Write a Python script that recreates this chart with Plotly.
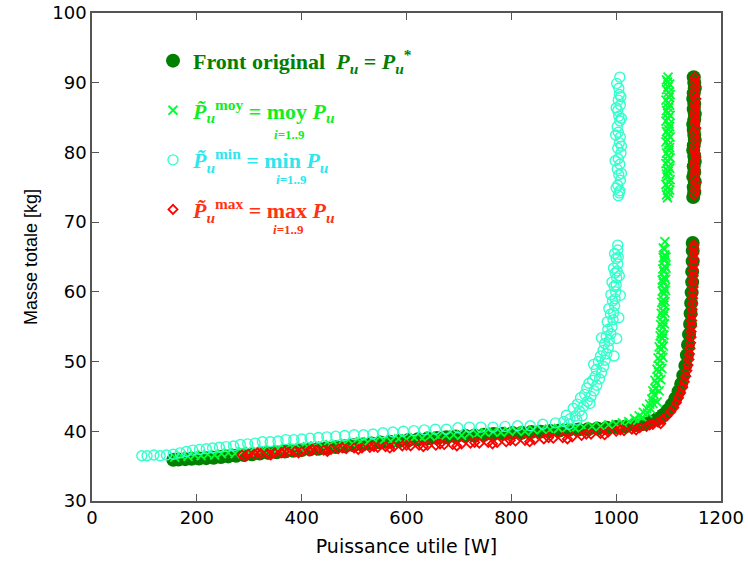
import plotly.graph_objects as go

# ---------------- data ----------------
# Front original  (P_u = P_u*)
front_power = [155,165,178,190,204,218,232,246,260,275,290,305,320,336,352,368,384,400,416,432,448,465,482,499,516,533,550,568,586,604,622,640,658,676,694,712,730,748,766,784,802,820,838,856,874,892,910,928,946,964,982,1000,1018,1036,1052,1066,1078,1089,1098,1106,1113,1119,1124,1128,1132,1135,1137,1139,1141,1142,1143,1144,1145,1145,1146,1146,1146,
               1147,1149,1148,1150,1147,1149,1148,1150,1149,1147,1148,1150,1149,1148,1147,1149,1150,1148,1149,1147,1148,1150,1149,1148]
front_mass = [35.9,35.95,36.0,36.05,36.1,36.15,36.2,36.3,36.4,36.5,36.6,36.7,36.8,36.9,37.0,37.1,37.2,37.3,37.4,37.5,37.6,37.75,37.85,38.0,38.1,38.25,38.4,38.5,38.6,38.75,38.85,38.95,39.05,39.15,39.25,39.35,39.4,39.5,39.6,39.65,39.75,39.8,39.9,39.95,40.05,40.1,40.2,40.25,40.3,40.4,40.5,40.6,40.7,40.85,41.05,41.35,41.75,42.3,43.0,43.8,44.7,45.7,46.8,48.0,49.4,50.9,52.4,53.9,55.4,56.9,58.4,59.9,61.4,62.9,64.4,65.9,67.0,
              73.6,74.3,75.0,75.8,76.5,77.2,78.0,78.7,79.5,80.3,81.0,81.8,82.5,83.2,84.0,84.7,85.5,86.2,87.0,87.7,88.5,89.2,90.0,90.8]

# moy
moy_power = [158,170,183,196,208,221,234,247,260,273,287,300,314,327,341,355,369,383,397,411,425,440,454,468,483,497,512,526,541,556,570,585,600,615,630,645,660,675,690,705,720,735,750,765,780,795,810,826,842,858,874,890,906,922,938,954,970,986,1000,
             1012,1024,1035,1040,1044,1050,1052,1058,1060,1064,1066,1068,1070,1072,1075,1077,1080,1081,1083,1084,1086,1085,1087,1088,1086,1089,1088,1090,1089,1091,1090,1091,1092,1090,1092,1091,1093,1092,1093,1092,1093,
             1070,1074,1078,1080,1082,1084,1085,1086,1087,1088,1088,1089,1090,1090,
             1078,1082,1085,1087,1089,1090,1091,1092,1093,1093,1094,1094,1095,1095,
             1098,1100,1099,1101,1097,1099,1100,1098,1099,1101,1100,1098,1099,1100,1101,1099,1098,1100,1099,1101,1100,1099,1098,1099,
             1096,1102,1095,1103,1096,1102,1095,1103,1096,1102,1095,1103,1096,1102,1095,1103,1096,1102,1095,1103,1096,1102,1096]
moy_mass = [36.3,36.5,36.4,36.6,36.5,36.7,36.6,36.8,36.9,36.8,37.1,37.0,37.2,37.3,37.2,37.5,37.4,37.7,37.6,37.8,37.9,37.8,38.1,38.0,38.3,38.2,38.5,38.4,38.6,38.7,38.6,38.9,38.8,39.1,39.0,39.3,39.2,39.4,39.5,39.4,39.7,39.6,39.8,39.9,39.8,40.0,40.1,40.0,40.2,40.3,40.2,40.4,40.5,40.4,40.6,40.7,40.7,40.9,41.0,
            41.2,41.4,41.8,41.5,42.2,42.0,42.7,43.3,42.6,43.9,43.2,44.6,44.0,45.3,46.1,46.9,47.7,48.5,49.3,50.1,50.9,51.7,52.5,53.3,54.1,54.9,55.7,56.5,57.3,58.1,58.9,59.7,60.5,61.3,62.1,62.9,63.7,64.5,65.3,66.1,67.2,
            45.8,47.3,48.9,50.5,52.1,53.7,55.3,56.9,58.5,60.1,61.7,63.3,64.9,66.3,
            44.2,45.8,47.4,49.0,50.6,52.2,53.8,55.4,57.0,58.6,60.2,61.8,63.4,65.0,
            73.5,74.2,75.0,75.7,76.5,77.3,78.0,78.8,79.5,80.3,81.1,81.8,82.6,83.3,84.1,84.9,85.6,86.4,87.1,87.9,88.6,89.4,90.1,90.8,
            73.9,74.6,75.4,76.1,76.9,77.7,78.4,79.2,79.9,80.7,81.5,82.2,83.0,83.7,84.5,85.3,86.0,86.8,87.5,88.3,89.0,89.8,90.4]

# min
min_power = [95,105,118,130,142,155,168,180,192,205,218,230,243,256,270,283,297,311,325,340,355,370,385,400,416,432,448,465,482,500,518,536,555,574,594,614,634,655,676,698,720,742,765,788,812,836,860,884,
             900,912,905,922,930,918,938,945,932,952,958,944,963,955,968,972,962,976,979,970,982,985,978,987,990,984,992,994,989,995,997,993,998,999,996,1000,1001,998,1002,1003,1000,1004,1003,1003,
             910,925,935,926,940,950,948,960,957,966,975,972,981,983,986,990,992,995,997,1006,1008,1005,1001,996,
             1004,1007,1003,1008,1005,1002,1007,1004,1009,1003,1006,1008,1004,1002,1007,1005,1003,1008,1004,1006,1005,1007,
             1000,1010,998,1010,999,1010,1000,1009,1001,1006]
min_mass = [36.5,36.5,36.6,36.5,36.6,36.7,36.9,37.1,37.3,37.4,37.5,37.6,37.7,37.8,37.9,38.1,38.2,38.3,38.5,38.5,38.6,38.8,38.8,38.9,39.0,39.1,39.2,39.3,39.4,39.5,39.5,39.6,39.8,39.9,40.0,40.1,40.2,40.3,40.3,40.5,40.6,40.6,40.6,40.7,40.8,40.8,41.0,41.2,
            41.4,41.8,42.3,42.2,42.9,43.3,43.6,44.3,44.8,45.0,45.8,46.2,46.6,47.3,47.5,48.4,48.9,49.3,50.2,50.8,51.1,52.0,52.6,53.0,54.0,54.6,55.0,56.0,56.8,57.0,58.0,58.7,59.0,60.0,60.8,61.0,62.0,62.7,63.0,64.0,64.8,65.0,66.0,66.7,
            41.0,41.6,42.2,43.9,45.3,44.0,46.9,47.9,49.6,50.0,51.6,53.4,53.6,55.7,57.6,59.6,61.4,63.4,65.5,62.3,59.5,56.3,53.3,50.8,
            73.8,74.5,75.3,76.0,76.8,77.6,78.3,79.1,79.9,80.6,81.4,82.2,82.9,83.7,84.5,85.2,86.0,86.8,87.5,88.3,89.2,90.8,
            74.9,77.0,78.8,80.9,82.5,84.9,86.4,88.0,89.9,74.2]

# max
max_power = [286,298,310,322,335,348,361,374,387,400,414,428,442,456,470,485,500,515,530,545,560,576,592,608,624,640,656,672,688,705,722,739,756,773,790,808,826,844,862,880,898,916,934,952,970,985,1000,
             292,316,341,367,394,421,449,478,508,538,568,600,632,664,696,730,764,798,835,871,907,943,978,1008,1038,1064,1085,
             1015,1030,1045,1058,1070,1080,1089,1097,1104,1110,1115,1119,1123,1127,1130,1133,1135,1137,1139,1140,1141,1142,1143,1143,1144,1144,1145,1145,1146,1146,1146,1147,1147,1147,1147,1148,1148,1148,1148,1148,
             1149,1151,1150,1152,1149,1150,1151,1149,1150,1152,1151,1149,1150,1151,1150,1149,1152,1150,1151,1149,1150,1151,1150,1152,1149,1150,1151,1150,1150]
max_mass = [36.6,36.7,36.7,36.8,36.8,36.9,36.9,37.0,37.1,37.1,37.2,37.3,37.3,37.4,37.5,37.5,37.6,37.6,37.7,37.7,37.8,37.8,37.9,37.9,38.0,38.0,38.0,38.1,38.1,38.2,38.3,38.3,38.4,38.4,38.5,38.6,38.7,38.8,38.9,39.0,39.1,39.2,39.4,39.6,39.7,39.9,40.0,
            36.4,36.9,36.6,37.1,36.9,37.4,37.1,37.6,37.4,37.8,37.6,38.0,37.8,38.2,37.9,38.4,38.2,38.7,38.5,39.1,38.9,39.6,39.5,40.2,40.2,40.9,41.1,
            40.1,40.3,40.5,40.7,41.0,41.3,41.7,42.2,42.8,43.4,44.1,44.8,45.5,46.3,47.1,47.9,48.7,49.5,50.3,51.1,51.9,52.7,53.5,54.3,55.1,55.9,56.7,57.5,58.3,59.1,59.9,60.7,61.5,62.3,63.1,63.9,64.7,65.5,66.3,66.7,
            73.9,74.5,75.1,75.7,76.3,76.9,77.5,78.1,78.7,79.3,79.9,80.5,81.1,81.7,82.3,82.9,83.5,84.1,84.7,85.3,85.9,86.5,87.1,87.7,88.3,88.9,89.5,90.1,90.8]

x_ticks = [0, 200, 400, 600, 800, 1000, 1200]
y_ticks = [30, 40, 50, 60, 70, 80, 90, 100]

C_FRONT = "#007f00"
C_MOY = "#00ff33"
C_MIN = "#33ffcc"
C_MAX = "#ff0000"
T_MOY = "#11ee22"
T_MIN = "#2ee6ee"
T_MAX = "#ff3311"

fig = go.Figure()
fig.add_trace(go.Scatter(
    x=front_power, y=front_mass, mode="markers", legendgroup="a",
    name='<span style="color:%s"><b>Front original  <i>P<sub>u</sub></i> = <i>P<sub>u</sub></i><sup>*</sup></b></span>' % C_FRONT,
    marker=dict(symbol="circle", size=14, color=C_FRONT)))
fig.add_trace(go.Scatter(
    x=moy_power, y=moy_mass, mode="markers", legendgroup="b",
    name='<span style="color:%s"><b><i>P̃<sub>u</sub></i><sup>moy</sup> = moy <i>P<sub>u</sub></i></b></span>' % T_MOY,
    marker=dict(symbol="x-thin", size=9, color=C_MOY, line=dict(color=C_MOY, width=1.8))))
fig.add_trace(go.Scatter(
    x=min_power, y=min_mass, mode="markers", legendgroup="c",
    name='<span style="color:%s"><b><i>P̃<sub>u</sub></i><sup>min</sup> = min <i>P<sub>u</sub></i></b></span>' % T_MIN,
    marker=dict(symbol="circle-open", size=10, color=C_MIN, line=dict(width=1.4))))
fig.add_trace(go.Scatter(
    x=max_power, y=max_mass, mode="markers", legendgroup="d",
    name='<span style="color:%s"><b><i>P̃<sub>u</sub></i><sup>max</sup> = max <i>P<sub>u</sub></i></b></span>' % T_MAX,
    marker=dict(symbol="diamond-open", size=7, color=C_MAX, line=dict(width=1.8))))

for txt, col, xp, yp in [("<b><i>i</i>=1..9</b>", T_MOY, 0.286, 0.770),
                          ("<b><i>i</i>=1..9</b>", T_MIN, 0.290, 0.658),
                          ("<b><i>i</i>=1..9</b>", T_MAX, 0.284, 0.556)]:
    fig.add_annotation(x=xp, y=yp, xref="paper", yref="paper", text=txt, showarrow=False,
                       font=dict(family="Liberation Serif", size=13, color=col))

axis_common = dict(showline=True, linecolor="#555555", linewidth=1.5, mirror="ticks",
                   ticks="inside", ticklen=7, tickwidth=1.2, tickcolor="#555555",
                   showgrid=False, zeroline=False, automargin=False,
                   ticklabeloverflow="allow",
                   tickfont=dict(family="DejaVu Sans", size=18, color="black"))

fig.update_layout(
    width=748, height=578,
    margin=dict(l=92, r=27, t=13, b=77),
    paper_bgcolor="white", plot_bgcolor="white",
    showlegend=True,
    legend=dict(x=0.097, y=0.945, xanchor="left", yanchor="top",
                bgcolor="rgba(0,0,0,0)", tracegroupgap=18,
                font=dict(family="Liberation Serif", size=22, color="black")),
    xaxis=dict(range=[0, 1200], tickvals=x_ticks, ticktext=[str(v) for v in x_ticks],
               title=dict(text="Puissance utile [W]", standoff=12,
                          font=dict(family="DejaVu Sans", size=19, color="black")),
               **axis_common),
    yaxis=dict(range=[30, 100], tickvals=y_ticks, ticktext=[str(v) for v in y_ticks],
               title=dict(text="Masse totale [kg]", standoff=10,
                          font=dict(family="Liberation Sans", size=18, color="black")),
               **axis_common),
)

fig.write_html("out.html", config={"displayModeBar": False},
               post_script="document.body.style.margin='0px';")
